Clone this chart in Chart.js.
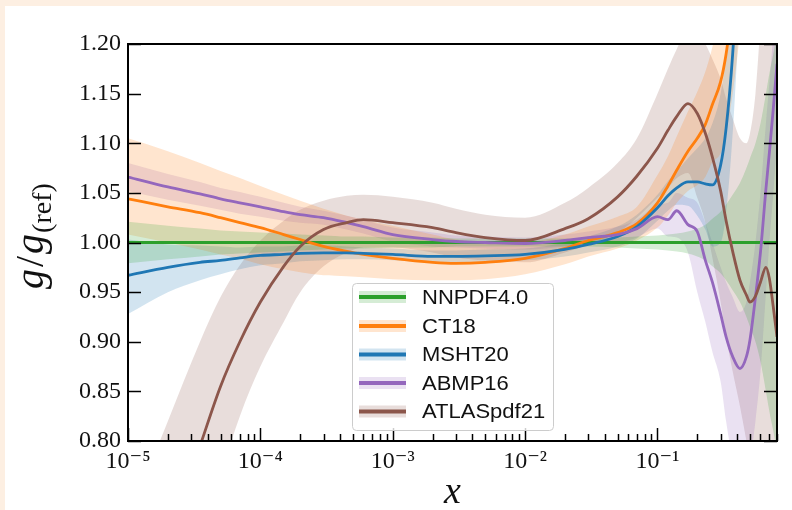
<!DOCTYPE html>
<html>
<head>
<meta charset="utf-8">
<script src="https://cdn.jsdelivr.net/npm/chart.js@4.4.1/dist/chart.umd.min.js"></script>
<style>
  html, body { margin: 0; padding: 0; background: #fdefe2; }
  #frame { position: absolute; left: 5px; top: 6px; width: 787px; height: 504px; background: #fff; }
</style>
</head>
<body>
<div id="frame"><canvas id="ratioChart"></canvas></div>
<script>
// x values shared by every curve
const xGrid = [1e-5, 2e-5, 3.5e-5, 5e-5, 7e-5, 1e-4, 1.5e-4, 2e-4, 3e-4, 4.5e-4, 6e-4, 1e-3, 2e-3, 3e-3, 5e-3,
  1e-2, 2e-2, 3e-2, 5e-2, 7e-2, 0.1, 0.12, 0.14, 0.17, 0.2, 0.23, 0.26, 0.3, 0.33, 0.37, 0.42, 0.47, 0.5,
  0.55, 0.6, 0.66, 0.7, 0.75, 0.8];

// NNPDF4.0 (reference set)
const nnpdfMid = [1, 1, 1, 1, 1, 1, 1, 1, 1, 1, 1, 1, 1, 1, 1, 1, 1, 1, 1, 1, 1, 1, 1, 1, 1, 1, 1, 1, 1, 1, 1, 1, 1, 1, 1, 1, 1, 1, 1];
const nnpdfHi = [1.021, 1.017, 1.014, 1.012, 1.011, 1.010, 1.009, 1.008, 1.007, 1.006, 1.006, 1.005, 1.005, 1.004, 1.004,
  1.004, 1.004, 1.004, 1.005, 1.006, 1.007, 1.008, 1.009, 1.011, 1.014, 1.018, 1.024, 1.031, 1.038, 1.048, 1.06, 1.075, 1.085,
  1.10, 1.12, 1.15, 1.17, 1.19, 1.21];
const nnpdfLo = [0.979, 0.983, 0.986, 0.988, 0.989, 0.990, 0.991, 0.992, 0.993, 0.994, 0.994, 0.995, 0.995, 0.996, 0.996,
  0.996, 0.996, 0.996, 0.995, 0.994, 0.993, 0.992, 0.991, 0.989, 0.986, 0.982, 0.976, 0.969, 0.962, 0.952, 0.94, 0.925, 0.915,
  0.90, 0.88, 0.85, 0.83, 0.81, 0.79];

// CT18
const ct18Mid = [1.044, 1.036, 1.030, 1.025, 1.020, 1.015, 1.008, 1.003, 0.996, 0.991, 0.988, 0.984, 0.980, 0.979, 0.980,
  0.984, 0.994, 1.002, 1.010, 1.019, 1.040, 1.057, 1.073, 1.092, 1.105, 1.119, 1.139, 1.162, 1.19, 1.24, 1.30, 1.38, 1.43,
  1.52, 1.62, 1.75, 1.85, 2.0, 2.2];
const ct18Hi = [1.105, 1.092, 1.080, 1.072, 1.065, 1.057, 1.048, 1.042, 1.034, 1.027, 1.023, 1.017, 1.008, 1.003, 1.0,
  1.0, 1.008, 1.016, 1.026, 1.036, 1.068, 1.087, 1.107, 1.132, 1.152, 1.172, 1.197, 1.235, 1.275, 1.34, 1.43, 1.53, 1.6,
  1.72, 1.85, 2.0, 2.1, 2.3, 2.5];
const ct18Lo = [1.008, 1.0, 0.993, 0.988, 0.984, 0.978, 0.973, 0.970, 0.967, 0.966, 0.965, 0.963, 0.962, 0.962, 0.963,
  0.968, 0.978, 0.986, 0.994, 1.002, 1.015, 1.027, 1.04, 1.052, 1.058, 1.066, 1.081, 1.09, 1.11, 1.15, 1.21, 1.27, 1.3,
  1.36, 1.42, 1.5, 1.55, 1.6, 1.7];

// MSHT20
const mshtMid = [0.967, 0.975, 0.980, 0.982, 0.9845, 0.987, 0.988, 0.989, 0.9895, 0.9895, 0.989, 0.988, 0.986, 0.986, 0.9865,
  0.988, 0.993, 0.998, 1.006, 1.016, 1.035, 1.047, 1.055, 1.061, 1.061, 1.059, 1.058, 1.078, 1.115, 1.19, 1.32, 1.45, 1.55,
  1.7, 1.85, 2.0, 2.1, 2.3, 2.5];
const mshtHi = [1.003, 0.998, 0.997, 0.996, 0.995, 0.996, 0.996, 0.997, 0.997, 0.996, 0.995, 0.994, 0.992, 0.992, 0.993,
  0.994, 1.0, 1.006, 1.016, 1.028, 1.048, 1.062, 1.072, 1.085, 1.095, 1.105, 1.12, 1.15, 1.19, 1.27, 1.4, 1.55, 1.65,
  1.8, 1.95, 2.1, 2.2, 2.4, 2.6];
const mshtLo = [0.928, 0.950, 0.962, 0.968, 0.973, 0.977, 0.979, 0.981, 0.982, 0.983, 0.983, 0.982, 0.980, 0.980, 0.980,
  0.982, 0.986, 0.990, 0.996, 1.004, 1.022, 1.032, 1.038, 1.037, 1.027, 1.013, 0.996, 1.0, 1.03, 1.11, 1.24, 1.35, 1.45,
  1.6, 1.75, 1.9, 2.0, 2.2, 2.4];

// ABMP16
const abmpMid = [1.066, 1.056, 1.049, 1.044, 1.040, 1.036, 1.031, 1.028, 1.025, 1.020, 1.016, 1.008, 1.003, 1.001, 1.0,
  0.999, 1.002, 1.005, 1.008, 1.014, 1.026, 1.023, 1.032, 1.018, 1.011, 0.982, 0.96, 0.928, 0.905, 0.885, 0.873, 0.885, 0.902,
  0.945, 0.99, 1.054, 1.09, 1.135, 1.18];
const abmpHi = [1.080, 1.069, 1.061, 1.055, 1.051, 1.046, 1.040, 1.036, 1.032, 1.027, 1.023, 1.015, 1.010, 1.007, 1.006,
  1.005, 1.008, 1.011, 1.016, 1.023, 1.038, 1.04, 1.05, 1.045, 1.04, 1.02, 1.0, 0.975, 0.96, 0.945, 0.93, 0.94, 0.96,
  1.0, 1.05, 1.12, 1.16, 1.21, 1.26];
const abmpLo = [1.052, 1.043, 1.037, 1.033, 1.029, 1.026, 1.022, 1.020, 1.018, 1.013, 1.009, 1.001, 0.996, 0.995, 0.994,
  0.993, 0.996, 0.999, 1.0, 1.005, 1.014, 1.006, 1.005, 0.99, 0.95, 0.92, 0.89, 0.86, 0.82, 0.78, 0.75, 0.76, 0.78,
  0.82, 0.87, 0.95, 1.0, 1.05, 1.1];

// ATLASpdf21
const atlasMid = [0.55, 0.70, 0.795, 0.855, 0.900, 0.940, 0.976, 0.996, 1.013, 1.020, 1.023, 1.020, 1.015, 1.010, 1.005,
  1.002, 1.014, 1.024, 1.046, 1.067, 1.095, 1.113, 1.127, 1.140, 1.130, 1.110, 1.086, 1.052, 1.022, 0.991, 0.962, 0.947, 0.940,
  0.946, 0.960, 0.975, 0.964, 0.935, 0.905];
const atlasHi = [0.72, 0.82, 0.90, 0.945, 0.977, 1.002, 1.022, 1.033, 1.042, 1.047, 1.048, 1.046, 1.040, 1.034, 1.028,
  1.025, 1.040, 1.055, 1.08, 1.105, 1.15, 1.175, 1.195, 1.215, 1.21, 1.2, 1.185, 1.165, 1.145, 1.125, 1.105, 1.10, 1.11,
  1.15, 1.22, 1.3, 1.35, 1.4, 1.45];
const atlasLo = [0.35, 0.55, 0.69, 0.765, 0.825, 0.875, 0.92, 0.95, 0.976, 0.99, 0.995, 0.995, 0.99, 0.985, 0.982,
  0.98, 0.99, 0.998, 1.01, 1.025, 1.045, 1.055, 1.065, 1.07, 1.045, 1.02, 0.985, 0.94, 0.905, 0.87, 0.835, 0.80, 0.78,
  0.76, 0.74, 0.72, 0.7, 0.68, 0.65];

// axis ticks
const xMajor = [1e-5, 1e-4, 1e-3, 1e-2, 1e-1];
const xTickLabels = ['10⁻⁵', '10⁻⁴', '10⁻³', '10⁻²', '10⁻¹'];
const yTicks = [0.80, 0.85, 0.90, 0.95, 1.00, 1.05, 1.10, 1.15, 1.20];

const pdfSets = [
  { label: 'NNPDF4.0', color: '#2ca02c', mid: nnpdfMid, lo: nnpdfLo, hi: nnpdfHi },
  { label: 'CT18', color: '#ff7f0e', mid: ct18Mid, lo: ct18Lo, hi: ct18Hi },
  { label: 'MSHT20', color: '#1f77b4', mid: mshtMid, lo: mshtLo, hi: mshtHi },
  { label: 'ABMP16', color: '#9467bd', mid: abmpMid, lo: abmpLo, hi: abmpHi },
  { label: 'ATLASpdf21', color: '#8c564b', mid: atlasMid, lo: atlasLo, hi: atlasHi },
];

function rgba(hex, a) {
  const n = parseInt(hex.slice(1), 16);
  return `rgba(${n >> 16}, ${(n >> 8) & 255}, ${n & 255}, ${a})`;
}
const pts = arr => arr.map((v, i) => ({ x: xGrid[i], y: v }));

const datasets = [];
pdfSets.forEach((s, k) => {
  const common = { pointRadius: 0, cubicInterpolationMode: 'monotone', capBezierPoints: false, clip: 0 };
  datasets.push({ ...common, label: s.label + ' hi', data: pts(s.hi), fill: '+1',
    backgroundColor: rgba(s.color, 0.2), borderColor: 'transparent', borderWidth: 0, order: 20 });
  datasets.push({ ...common, label: s.label + ' lo', data: pts(s.lo), fill: false,
    borderColor: 'transparent', borderWidth: 0, order: 20 });
  datasets.push({ ...common, label: s.label, data: pts(s.mid), fill: false,
    borderColor: s.color, borderWidth: 2.8, order: 10 - k });
});

const SERIF = '"Liberation Serif", "DejaVu Serif", serif';

// frame, inward ticks, axis titles and legend
const decor = {
  id: 'decor',
  afterDatasetsDraw(chart) {
    const { ctx, chartArea: a, scales: { x, y } } = chart;
    ctx.save();
    ctx.strokeStyle = '#000';
    ctx.lineWidth = 1.5;
    const seg = (x1, y1, x2, y2) => { ctx.beginPath(); ctx.moveTo(x1, y1); ctx.lineTo(x2, y2); ctx.stroke(); };

    yTicks.forEach(v => {
      const py = Math.round(y.getPixelForValue(v)) + 0.5;
      seg(a.left, py, a.left + 13, py);
      seg(a.right, py, a.right - 13, py);
    });
    xMajor.forEach(v => {
      const px = Math.round(x.getPixelForValue(v)) + 0.5;
      seg(px, a.bottom, px, a.bottom - 13);
    });
    for (let d = -5; d <= -1; d++) {
      for (let k = 2; k <= 9; k++) {
        const v = k * Math.pow(10, d);
        if (v > x.max) break;
        const px = Math.round(x.getPixelForValue(v)) + 0.5;
        seg(px, a.bottom, px, a.bottom - 7);
      }
    }
    ctx.lineWidth = 2;
    ctx.strokeRect(a.left, a.top, a.right - a.left, a.bottom - a.top);

    // legend
    const bx = a.left + 224.5, by = a.top + 239.5, bw = 201, bh = 147;
    ctx.beginPath();
    ctx.roundRect(bx, by, bw, bh, 4);
    ctx.fillStyle = 'rgba(255,255,255,0.8)';
    ctx.fill();
    ctx.lineWidth = 1;
    ctx.strokeStyle = '#cccccc';
    ctx.stroke();
    const rows = [253, 282, 310.5, 339, 367.5];
    pdfSets.forEach((s, i) => {
      const cy = a.top + rows[i];
      ctx.fillStyle = rgba(s.color, 0.2);
      ctx.fillRect(a.left + 231, cy - 6, 47, 12);
      ctx.strokeStyle = s.color;
      ctx.lineWidth = 4;
      seg(a.left + 231, cy, a.left + 278, cy);
      ctx.save();
      ctx.translate(a.left + 294, cy);
      ctx.scale(1.1, 1);
      ctx.fillStyle = '#111';
      ctx.font = '20px "Liberation Sans", Arial, sans-serif';
      ctx.textBaseline = 'middle';
      ctx.fillText(s.label, 0, 1);
      ctx.restore();
    });

    // x axis title
    ctx.fillStyle = '#111';
    ctx.font = 'italic 38px ' + SERIF;
    ctx.textAlign = 'center';
    ctx.textBaseline = 'alphabetic';
    ctx.fillText('x', (a.left + a.right) / 2, 497);

    // y axis title g/g_(ref)
    ctx.save();
    ctx.translate(38, 283);
    ctx.rotate(-Math.PI / 2);
    ctx.textAlign = 'left';
    let cx = 0;
    ctx.font = 'italic 40px ' + SERIF;
    ctx.fillText('g', cx, 0); cx += ctx.measureText('g').width + 2;
    ctx.font = '40px ' + SERIF;
    ctx.fillText('/', cx, 0); cx += ctx.measureText('/').width + 2;
    ctx.font = 'italic 40px ' + SERIF;
    ctx.fillText('g', cx, 0); cx += ctx.measureText('g').width + 1;
    ctx.font = '28px ' + SERIF;
    ctx.fillText('(ref)', cx, 8);
    ctx.restore();

    ctx.restore();
  }
};

new Chart(document.getElementById('ratioChart'), {
  type: 'line',
  data: { datasets },
  plugins: [decor],
  options: {
    responsive: true,
    maintainAspectRatio: false,
    animation: false,
    layout: { padding: { top: 38, right: 15, left: 0, bottom: 0 } },
    plugins: {
      legend: { display: false },
      tooltip: { enabled: false },
      filler: { propagate: false, drawTime: 'beforeDatasetsDraw' }
    },
    scales: {
      x: {
        type: 'logarithmic',
        min: 1e-5,
        max: 0.8,
        afterBuildTicks: s => { s.ticks = xMajor.map(v => ({ value: v })); },
        afterFit: s => { s.height = 69; },
        grid: { display: false, drawTicks: false },
        border: { display: false },
        ticks: {
          autoSkip: false, maxRotation: 0, padding: 6, color: '#111',
          font: { family: SERIF, size: 24 },
          callback: v => xTickLabels[xMajor.indexOf(v)]
        }
      },
      y: {
        min: 0.8,
        max: 1.2,
        afterBuildTicks: s => { s.ticks = yTicks.map(v => ({ value: v })); },
        afterFit: s => { s.width = 123; },
        grid: { display: false, drawTicks: false },
        border: { display: false },
        ticks: {
          padding: 7, color: '#111',
          font: { family: SERIF, size: 24 },
          callback: v => v.toFixed(2)
        }
      }
    }
  }
});
</script>
</body>
</html>
